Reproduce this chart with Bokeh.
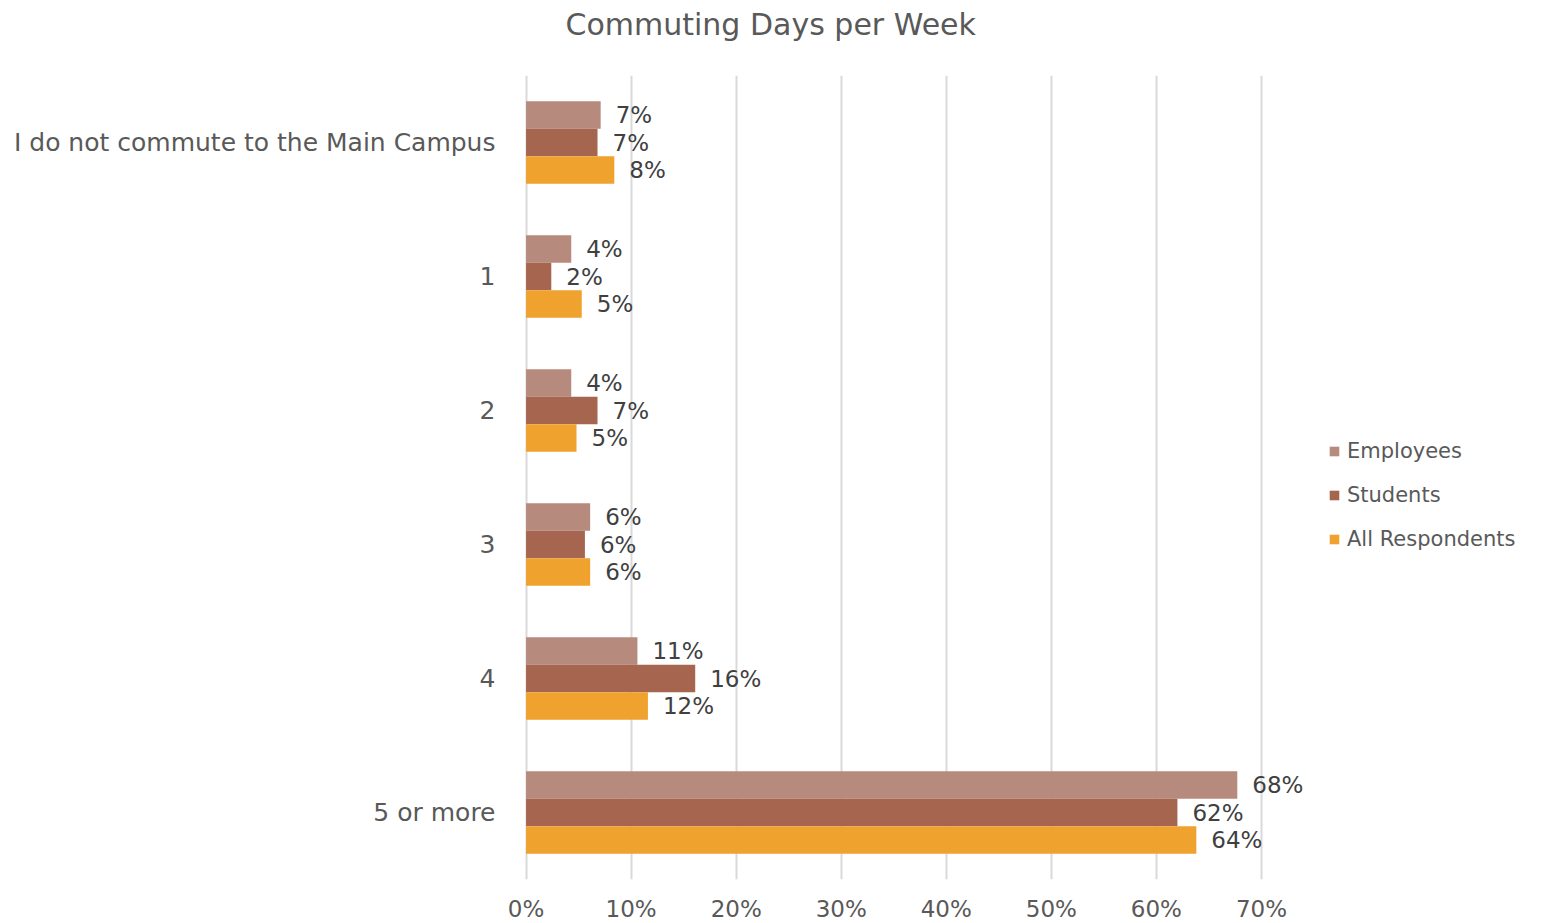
from bokeh.plotting import figure
from bokeh.models import (ColumnDataSource, FactorRange, Range1d, Legend, LegendItem,
                          LabelSet, FixedTicker, NumeralTickFormatter, Title)
from bokeh.transform import dodge
from bokeh.core.properties import value
from bokeh.embed import file_html
from bokeh.resources import INLINE

categories = ["I do not commute to the Main Campus", "1", "2", "3", "4", "5 or more"]
series_names = ["Employees", "Students", "All Respondents"]
employees = [0.071, 0.043, 0.043, 0.061, 0.106, 0.677]
students = [0.068, 0.024, 0.068, 0.056, 0.161, 0.620]
all_resp = [0.084, 0.053, 0.048, 0.061, 0.116, 0.638]
emp_labels = ["7%", "4%", "4%", "6%", "11%", "68%"]
stu_labels = ["7%", "2%", "7%", "6%", "16%", "62%"]
all_labels = ["8%", "5%", "5%", "6%", "12%", "64%"]
x_ticks = [0.0, 0.1, 0.2, 0.3, 0.4, 0.5, 0.6, 0.7]

colors = ["#B68A7D", "#A5654E", "#EFA22E"]
FONT = "DejaVu Sans"
TXT = "#595959"

src = ColumnDataSource(dict(cat=categories, emp=employees, stu=students, all=all_resp,
                            el=emp_labels, sl=stu_labels, al=all_labels))

p = figure(y_range=FactorRange(*categories[::-1]), x_range=Range1d(-0.0015, 0.76),
           frame_width=800, frame_height=804, title=None,
           min_border_left=524, min_border_right=200, min_border_top=75, min_border_bottom=20,
           output_backend="svg", toolbar_location=None, background_fill_color="white",
           border_fill_color="white", outline_line_color=None)

# spacer nearest the frame, then the real title above it
spacer = Title(text=" ", text_font_size="1px", standoff=30, text_color="white")
p.add_layout(spacer, "above")
main_title = Title(text="Commuting Days per Week", align="left", offset=41,
                   text_font=FONT, text_font_size="30px", text_font_style="normal",
                   text_color=TXT, standoff=2)
p.add_layout(main_title, "above")

off = 0.205
h = 0.205
r_emp = p.hbar(y=dodge("cat", off, range=p.y_range), right="emp", left=0, height=h, source=src,
               fill_color=colors[0], line_color=None)
r_stu = p.hbar(y=dodge("cat", 0, range=p.y_range), right="stu", left=0, height=h, source=src,
               fill_color=colors[1], line_color=None)
r_all = p.hbar(y=dodge("cat", -off, range=p.y_range), right="all", left=0, height=h, source=src,
               fill_color=colors[2], line_color=None)

for col, lab, o in [("emp", "el", off), ("stu", "sl", 0), ("all", "al", -off)]:
    ls = LabelSet(x=col, y=dodge("cat", o, range=p.y_range), text=lab, source=src,
                  x_offset=15, text_align="left", text_baseline="middle",
                  text_font=value(FONT), text_font_size="23px", text_color="#404040")
    p.add_layout(ls)

p.xaxis.ticker = FixedTicker(ticks=x_ticks)
p.xaxis.formatter = NumeralTickFormatter(format="0%")
p.xaxis.axis_line_color = None
p.xaxis.major_tick_line_color = None
p.xaxis.minor_tick_line_color = None
p.xaxis.major_label_text_font = FONT
p.xaxis.major_label_text_font_size = "23px"
p.xaxis.major_label_text_color = TXT
p.xaxis.major_label_standoff = 10

p.yaxis.axis_line_color = None
p.yaxis.major_tick_line_color = None
p.yaxis.major_label_text_font = FONT
p.yaxis.major_label_text_font_size = "25px"
p.yaxis.major_label_text_color = TXT
p.yaxis.major_label_standoff = 23

p.ygrid.grid_line_color = None
p.xgrid.grid_line_color = "#D9D9D9"
p.xgrid.grid_line_width = 2

legend = Legend(items=[LegendItem(label=series_names[0], renderers=[r_emp]),
                       LegendItem(label=series_names[1], renderers=[r_stu]),
                       LegendItem(label=series_names[2], renderers=[r_all])],
                location=(4, 328), border_line_color=None, background_fill_alpha=0,
                padding=0, margin=0, spacing=20, glyph_width=12, glyph_height=12,
                label_text_font=FONT, label_text_font_size="21px", label_text_color=TXT,
                label_standoff=7)
p.add_layout(legend, "right")

open("out.html", "w").write(file_html(p, INLINE))
